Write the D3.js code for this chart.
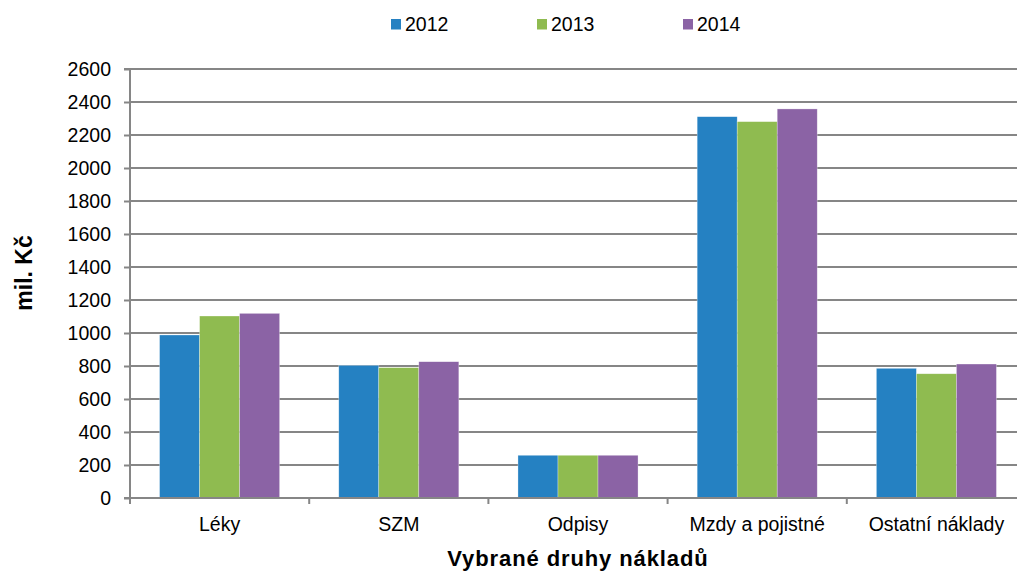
<!DOCTYPE html>
<html><head><meta charset="utf-8">
<script src="https://cdn.jsdelivr.net/npm/d3@7"></script>
<style>body{margin:0;background:#fff}svg{display:block}text{font-family:"Liberation Sans",Arial,sans-serif;fill:#000}</style>
</head><body>
<script>
const categories = ["Léky","SZM","Odpisy","Mzdy a pojistné","Ostatní náklady"];
const seriesNames = ["2012","2013","2014"];
const values2012 = [988, 804, 259, 2311, 786];
const values2013 = [1103, 790, 259, 2281, 753];
const values2014 = [1119, 826, 259, 2358, 812];
const yTicks = [0,200,400,600,800,1000,1200,1400,1600,1800,2000,2200,2400,2600];
const colors = ["#2581c2","#8fbb50","#8b63a5"];
const series = [values2012, values2013, values2014];

const W=1017,H=572;
const FS=19.5;
const svg=d3.select("body").append("svg").attr("width",W).attr("height",H);
const m={left:130,right:1026,top:69,bottom:498};
const x=d3.scaleBand().domain(categories).range([m.left,m.right]).paddingInner(0.33).paddingOuter(0.165);
const x1=d3.scaleBand().domain(seriesNames).range([0,x.bandwidth()]);
const y=d3.scaleLinear().domain([0,2600]).range([m.bottom,m.top]);
const grid="#868686";

// gridlines
svg.append("g").selectAll("line").data(yTicks.filter(d=>d>0)).join("line")
 .attr("x1",m.left).attr("x2",m.right).attr("y1",d=>y(d)).attr("y2",d=>y(d))
 .attr("stroke",grid).attr("stroke-width",2);

// bars
categories.forEach((c,i)=>{
  series.forEach((s,j)=>{
    svg.append("rect").attr("x",x(c)+x1(seriesNames[j])).attr("width",x1.bandwidth())
      .attr("y",y(s[i])).attr("height",y(0)-y(s[i])).attr("fill",colors[j])
      .attr("stroke","#ffffff").attr("stroke-opacity",0.5).attr("stroke-width",0.6);
  });
});

// y axis
const ya=svg.append("g").attr("transform",`translate(${m.left},0)`)
 .call(d3.axisLeft(y).tickValues(yTicks).tickFormat(d3.format("d")).tickSize(6).tickPadding(13));
ya.select(".domain").attr("stroke",grid).attr("stroke-width",2).attr("d",`M-6,${m.top}H0V${m.bottom}`);
ya.selectAll(".tick line").attr("stroke",grid).attr("stroke-width",2);
ya.selectAll(".tick text").attr("font-size",FS).attr("font-family","Liberation Sans, Arial, sans-serif").attr("fill","#000");

// x axis
const xa=svg.append("g").attr("transform",`translate(0,${m.bottom})`)
 .call(d3.axisBottom(x).tickSize(0).tickPadding(19));
xa.select(".domain").remove();
const bounds=categories.map(c=>x(c)-x.step()*x.paddingInner()/2).concat([m.right]);
xa.selectAll("line.sep").data(bounds).join("line").attr("class","sep")
 .attr("x1",d=>d).attr("x2",d=>d).attr("y1",0).attr("y2",6).attr("stroke",grid).attr("stroke-width",2);
xa.append("line").attr("x1",m.left-6).attr("x2",m.right).attr("y1",0).attr("y2",0).attr("stroke",grid).attr("stroke-width",2);
xa.selectAll(".tick text").attr("font-size",FS).attr("font-family","Liberation Sans, Arial, sans-serif").attr("fill","#000");

// titles
svg.append("text").attr("x",578).attr("y",566).attr("text-anchor","middle")
 .attr("font-size",22).attr("letter-spacing","0.9px").attr("font-weight","bold").text("Vybrané druhy nákladů");
svg.append("text").attr("transform","translate(32,273) rotate(-90)").attr("text-anchor","middle")
 .attr("font-size",23).attr("font-weight","bold").text("mil. Kč");

// legend
const lx=[391,537,683];
seriesNames.forEach((n,i)=>{
  svg.append("rect").attr("x",lx[i]).attr("y",19).attr("width",10).attr("height",10.5).attr("fill",colors[i]);
  svg.append("text").attr("x",lx[i]+14).attr("y",31).attr("font-size",FS).text(n);
});
</script>
</body></html>
